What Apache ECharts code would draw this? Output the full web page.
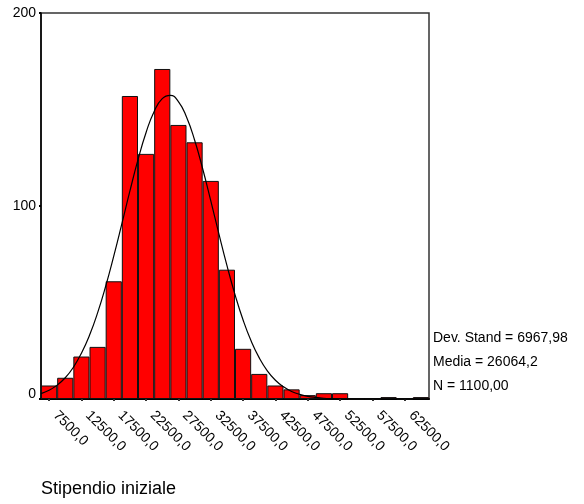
<!DOCTYPE html>
<html>
<head>
<meta charset="utf-8">
<script src="https://cdn.jsdelivr.net/npm/echarts@6/dist/echarts.min.js"></script>
<style>
  html, body { margin: 0; padding: 0; background: #fff; }
  #chart { width: 584px; height: 504px; }
</style>
</head>
<body>
<div id="chart"></div>
<script>
// bin centres (width 2500)
const binCenters = [7500, 10000, 12500, 15000, 17500, 20000, 22500, 25000, 27500, 30000,
  32500, 35000, 37500, 40000, 42500, 45000, 47500, 50000, 52500, 55000, 57500, 60000, 62500, 65000]
// frequencies
const counts = [7, 11, 22, 27, 61, 157, 127, 171, 142, 133,
  113, 67, 26, 13, 7, 5, 2, 3, 3, 0, 0, 1, 0, 1]

// normal curve
const curveX = [6250, 7500, 8750, 10000, 11250, 12500, 13750, 15000, 16250, 17500, 18750, 20000,
  21250, 22500, 23750, 25000, 26250, 27500, 28750, 30000, 31250, 32500, 33750, 35000, 36250,
  37500, 38750, 40000, 41250, 42500, 43750, 45000, 46250, 47500, 48750, 50000, 51250, 52500,
  55000, 60000, 66250]
const curveY = [2.8, 4.5, 7.2, 11.0, 16.4, 23.7, 33.0, 44.6, 58.4, 74.0, 90.7, 107.8,
  124.0, 138.1, 149.0, 155.6, 157.3, 154.1, 146.1, 134.2, 119.3, 102.8, 85.7, 69.2, 54.1,
  40.9, 30.0, 21.3, 14.6, 9.7, 6.3, 3.9, 2.4, 1.4, 0.8, 0.4, 0.2, 0.1,
  0, 0, 0]

const yTicks = [0, 100, 200]
const statLines = ['Dev. Stand = 6967,98', 'Media = 26064,2', 'N = 1100,00']
const axisTitle = 'Stipendio iniziale'

const FONT = 'Arial, "Liberation Sans", sans-serif'

const myChart = echarts.init(document.getElementById('chart'), null, { renderer: 'canvas' })

const option = {
  animation: false,
  grid: {
    left: 41,
    right: 155,
    top: 13,
    bottom: 105,
    show: true,
    borderColor: '#333',
    borderWidth: 1.5,
    backgroundColor: '#fff'
  },
  xAxis: [
    {
      type: 'category',
      data: binCenters.map(v => v.toFixed(1).replace('.', ',')),
      boundaryGap: true,
      axisLine: { lineStyle: { color: '#000', width: 2 } },
      axisTick: {
        show: true,
        interval: 1,
        alignWithLabel: true,
        length: 2,
        lineStyle: { color: '#333', width: 2 }
      },
      axisLabel: {
        interval: 1,
        rotate: -45,
        margin: 8,
        padding: [0, 0, 0, 9],
        color: '#000',
        fontSize: 14,
        fontFamily: FONT
      }
    },
    {
      type: 'value',
      min: 6250,
      max: 66250,
      show: false
    }
  ],
  yAxis: {
    type: 'value',
    min: yTicks[0],
    max: yTicks[yTicks.length - 1],
    interval: 100,
    axisLine: { show: true, lineStyle: { color: '#000', width: 1.5 } },
    axisTick: { show: true, length: 2, lineStyle: { color: '#000', width: 2 } },
    splitLine: { show: false },
    axisLabel: {
      margin: 5,
      color: '#000',
      fontSize: 14,
      fontFamily: FONT,
      formatter: v => v === 0 ? '{z|0}' : String(v),
      rich: { z: { fontSize: 14, fontFamily: FONT, color: '#000', padding: [0, 0, 10, 0] } }
    }
  },
  series: [
    {
      type: 'bar',
      data: counts,
      barCategoryGap: '0%',
      itemStyle: {
        color: '#ff0000',
        borderColor: '#111',
        borderWidth: 1
      },
      z: 2
    },
    {
      type: 'line',
      xAxisIndex: 1,
      data: curveX.map((x, i) => [x, curveY[i]]),
      smooth: true,
      symbol: 'none',
      lineStyle: { color: '#000', width: 1.2 },
      z: 3
    }
  ],
  graphic: [
    ...statLines.map((t, i) => ({
      type: 'text',
      left: 433,
      top: 331 + i * 24,
      style: { text: t, font: '14px ' + FONT, fill: '#000' }
    })),
    {
      type: 'text',
      left: 41,
      top: 480,
      style: { text: axisTitle, font: '18px ' + FONT, fill: '#000' }
    }
  ]
}

myChart.setOption(option)
</script>
</body>
</html>
